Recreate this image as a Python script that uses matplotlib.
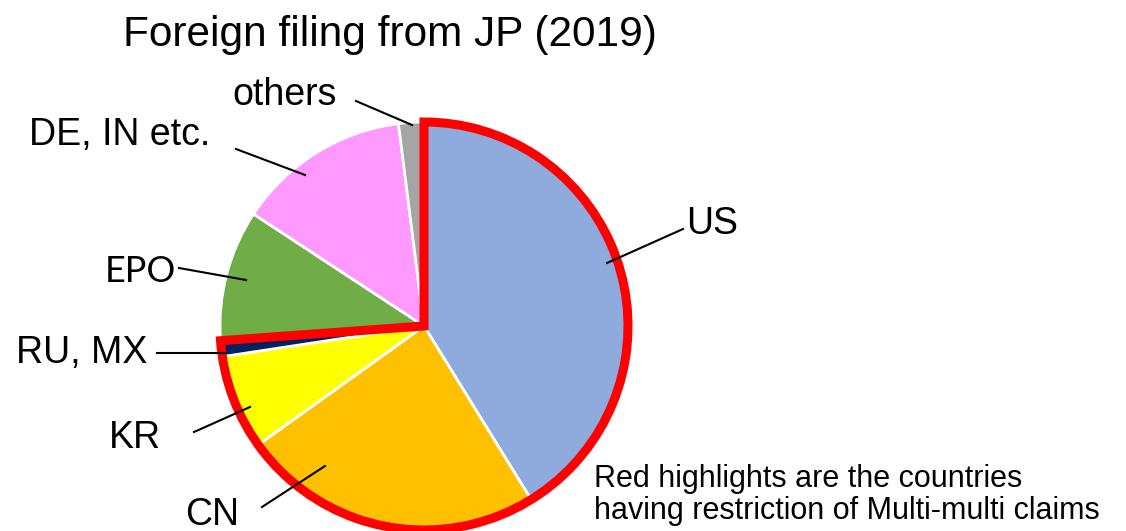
import matplotlib.pyplot as plt
from matplotlib.patches import Wedge

plt.rcParams['font.family'] = ['Liberation Sans', 'DejaVu Sans']

countries = ['US', 'CN', 'KR', 'RU, MX', 'EPO', 'DE, IN etc.', 'others']
shares = [41.2, 23.9, 7.5, 1.25, 10.4, 13.75, 2.0]
colors = ['#8FAADC', '#FFC000', '#FFFF00', '#002060', '#70AD47', '#FF99FF', '#A5A5A5']
restricted = ['US', 'CN', 'KR', 'RU, MX']

H = 531

# label text position, leader line start, leader line end (pixels from top-left)
label_pos = {
    'US': ((686, 224), (683, 229), (607, 263)),
    'CN': ((212, 515), (262, 507), (325, 466)),
    'KR': ((135, 438), (194, 432), (250, 407)),
    'RU, MX': ((82, 353), (157, 353), (226, 353)),
    'EPO': ((140, 272), (179, 268), (246, 280)),
    'DE, IN etc.': ((120, 135), (236, 149), (305, 175)),
    'others': ((285, 95), (356, 101), (412, 125)),
}


def px(x, y):
    return x, H - y


fig = plt.figure(figsize=(11.26, 5.31), dpi=100)
ax = fig.add_axes([0, 0, 1, 1])

center = px(424, 326)
radius = 204

ax.pie(shares, colors=colors, startangle=90, counterclock=False,
       center=center, radius=radius, frame=True,
       wedgeprops=dict(edgecolor='white', linewidth=2))
ax.set_xlim(0, 1126)
ax.set_ylim(0, H)
ax.set_aspect('equal')
ax.axis('off')

# red outline around the countries restricting multi-multi claims
total = sum(shares)
n = len(restricted)
start = 90 - 360 * sum(shares[:n]) / total
outline = Wedge(center, radius, start, 90, fill=False, edgecolor='#FF0000',
                linewidth=6.5, joinstyle='miter')
ax.add_patch(outline)

for name in countries:
    (tx, ty), p0, p1 = label_pos[name]
    ha = 'left' if name == 'US' else 'center'
    kw = dict(fontsize=27)
    if name == 'EPO':
        kw = dict(fontsize=26, family=['Lato', 'DejaVu Sans'])
    ax.text(*px(tx, ty), name, ha=ha, va='center', **kw)
    (x0, y0), (x1, y1) = px(*p0), px(*p1)
    ax.plot([x0, x1], [y0, y1], color='black', linewidth=1.5)

ax.text(*px(390, 35), 'Foreign filing from JP (2019)', fontsize=30.5,
        ha='center', va='center')
ax.text(*px(594, 495), 'Red highlights are the countries\nhaving restriction of Multi-multi claims',
        fontsize=22, ha='left', va='center', linespacing=1.05)

fig.savefig('out.png', dpi=100)
